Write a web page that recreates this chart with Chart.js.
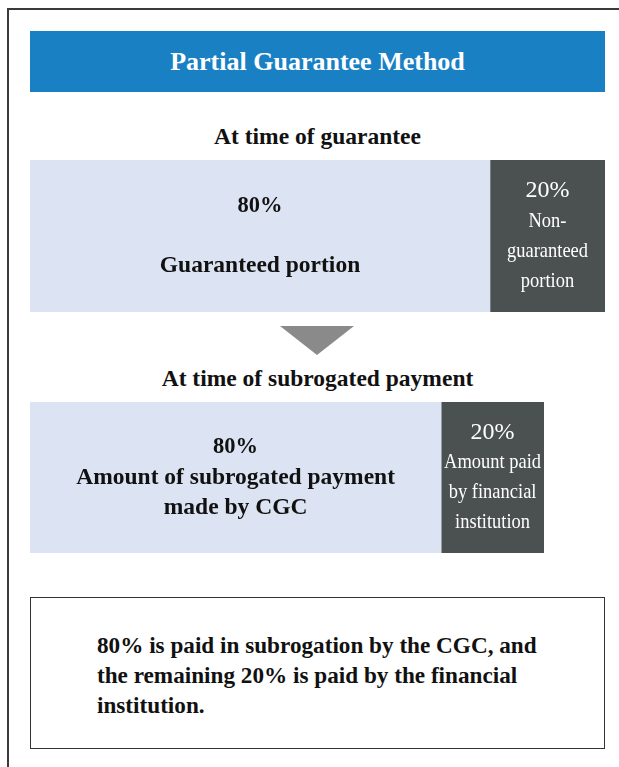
<!DOCTYPE html>
<html>
<head>
<meta charset="utf-8">
<script src="https://cdn.jsdelivr.net/npm/chart.js@4.4.1/dist/chart.umd.min.js"></script>
<style>
  body { margin: 0; background: #fff; font-family: "Liberation Serif", serif; }
  #page { position: relative; width: 619px; height: 767px; overflow: hidden; }
  .frame { position: absolute; left: 7px; top: 8px; width: 640px; height: 800px;
           border-top: 2px solid #3a3a3a; border-left: 2px solid #3a3a3a; }
  .header { position: absolute; left: 30px; top: 31px; width: 575px; height: 61px;
            background: #1a80c4; color: #fff; font-weight: bold; font-size: 26px;
            line-height: 61px; text-align: center; }
  .title { position: absolute; left: 30px; width: 575px; text-align: center;
           font-weight: bold; font-size: 23.5px; line-height: 30px; color: #111; }
  .arrow { position: absolute; left: 280px; top: 326px; width: 0; height: 0;
           border-left: 37px solid transparent; border-right: 37px solid transparent;
           border-top: 29px solid #8a8a8a; }
  .bar { position: absolute; left: 30px; }
  .note { position: absolute; left: 30px; top: 597px; width: 575px; height: 152px;
          box-sizing: border-box; border: 1px solid #333; padding: 32px 0 0 66px;
          font-weight: bold; font-size: 23.2px; line-height: 30px; color: #111; }
</style>
</head>
<body>
<div id="page">
  <div class="frame"></div>
  <div class="header">Partial Guarantee Method</div>
  <div class="title" id="title0" style="top:121px"></div>
  <div class="bar" style="top:160px;width:575px;height:152px"><canvas id="bar0"></canvas></div>
  <div class="arrow"></div>
  <div class="title" id="title1" style="top:363px"></div>
  <div class="bar" style="top:402px;width:514px;height:151px"><canvas id="bar1"></canvas></div>
  <div class="note">80% is paid in subrogation by the CGC, and<br>the remaining 20% is paid by the financial<br>institution.</div>
</div>
<script>
// stages of the partial guarantee
const stages = ['At time of guarantee', 'At time of subrogated payment'];
const coveredShare = [80, 80];
const remainderShare = [20, 20];
const coveredLabels = [
  ['80%', '', 'Guaranteed portion'],
  ['80%', 'Amount of subrogated payment', 'made by CGC']
];
const remainderLabels = [
  ['20%', 'Non-', 'guaranteed', 'portion'],
  ['20%', 'Amount paid', 'by financial', 'institution']
];

// write the text inside each bar segment, first line may use its own font
const barLabels = {
  id: 'barLabels',
  afterDatasetsDraw(chart) {
    const ctx = chart.ctx;
    chart.data.datasets.forEach((ds, i) => {
      const bar = chart.getDatasetMeta(i).data[0];
      const cx = (bar.base + bar.x) / 2;
      const lines = ds.lines;
      const lineH = 30;
      ctx.save();
      ctx.fillStyle = ds.textColor;
      ctx.textAlign = 'center';
      ctx.textBaseline = 'middle';
      lines.forEach((txt, k) => {
        const cy = bar.y + (k - (lines.length - 1) / 2) * lineH;
        const first = k === 0;
        ctx.font = first ? ds.headFont : ds.textFont;
        ctx.save();
        ctx.translate(cx, cy);
        ctx.scale(first ? 1 : ds.squeeze, 1);
        ctx.fillText(txt, 0, 0);
        ctx.restore();
      });
      ctx.restore();
    });
  }
};

stages.forEach((stage, k) => {
  document.getElementById('title' + k).textContent = stage;
  new Chart(document.getElementById('bar' + k), {
    type: 'bar',
    data: {
      labels: [stage],
      datasets: [
        { data: [coveredShare[k]], backgroundColor: '#dce3f2', lines: coveredLabels[k],
          textColor: '#111', headFont: 'bold 22.5px "Liberation Serif"',
          textFont: 'bold 23.5px "Liberation Serif"', squeeze: 1 },
        { data: [remainderShare[k]], backgroundColor: '#4a5150', lines: remainderLabels[k],
          textColor: '#fff', headFont: '24px "Liberation Serif"',
          textFont: '21px "Liberation Serif"', squeeze: 0.88 }
      ]
    },
    options: {
      indexAxis: 'y',
      responsive: true,
      maintainAspectRatio: false,
      animation: false,
      layout: { padding: 0 },
      datasets: { bar: { barPercentage: 1, categoryPercentage: 1, borderWidth: 0 } },
      scales: {
        x: { stacked: true, min: 0, max: 100, display: false },
        y: { stacked: true, display: false }
      },
      plugins: { legend: { display: false }, tooltip: { enabled: false } }
    },
    plugins: [barLabels]
  });
});
</script>
</body>
</html>
